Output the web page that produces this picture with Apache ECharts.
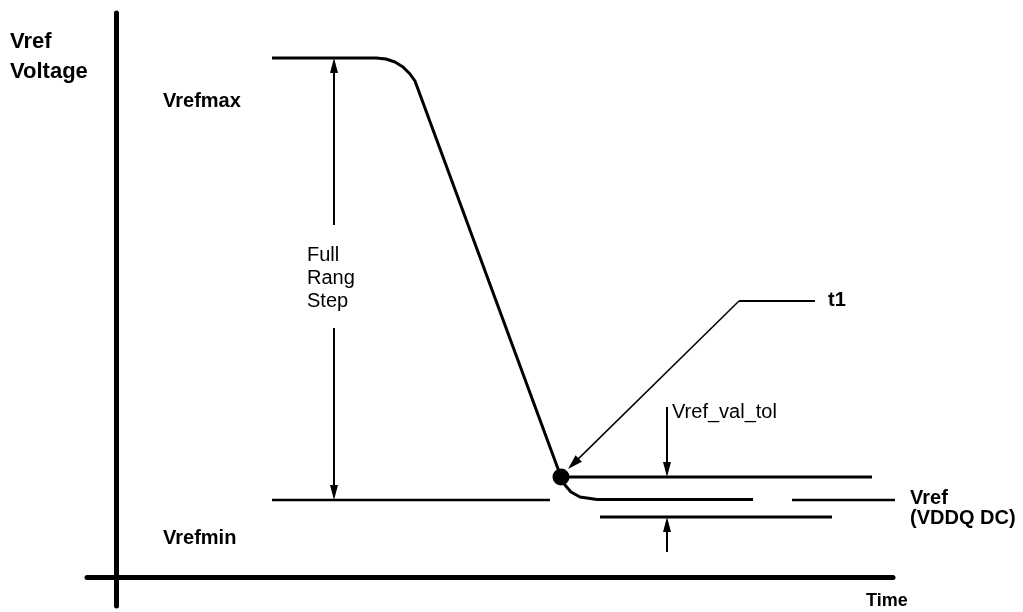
<!DOCTYPE html>
<html><head><meta charset="utf-8">
<script src="https://cdn.jsdelivr.net/npm/echarts@6/dist/echarts.min.js"></script>
<style>html,body{margin:0;padding:0;background:#fff}#chart{width:1023px;height:612px}</style>
</head><body><div id="chart"></div>
<script>
// Diagram data: x = time units, y = voltage units
const stepCurve = [[15.6,51.9],[26.0,51.9],[27.0,51.8],[27.9,51.5],[28.7,51.0],[29.4,50.3],[29.9,49.6],[44.5,10.0]];
const settleCurve = [[44.5,10.0],[44.9,9.2],[45.5,8.5],[46.4,8.0],[48.1,7.75],[63.7,7.75]];
const vrefminLine = [[15.6,7.7],[43.4,7.7]];
const vrefDcLine = [[67.6,7.7],[78.2,7.7]];
const tolUpperLine = [[44.5,10.0],[75.6,10.0]];
const tolLowerLine = [[48.4,6.0],[71.6,6.0]];
const t1Point = [[44.5,10.0]];
const t1Leader = [[62.3,27.6],[69.9,27.6]];
const dimensionArrows = [[21.8,35.2,21.8,51.9],[21.8,24.9,21.8,7.7],[55.1,17.0,55.1,10.0],[55.1,2.5,55.1,6.0]];
const t1Arrow = [[62.3,27.6,45.2,10.8]];
const boldLabels = ['Vrefmax','Vrefmin','t1','Vref\n(VDDQ DC)'];
const boldAnchors = [[4.7,47.6],[4.7,3.9],[71.2,27.7],[79.4,6.9]];
const plainLabels = ['Full\nRang\nStep','Vref_val_tol'];
const plainAnchors = [[19.1,29.9],[55.6,16.45]];
const yAxisTitle = 'Vref\nVoltage';
const xAxisTitle = 'Time';
const xRange = [-2.9, 77.7];
const yRange = [-2.9, 56.4];

const FONT = "'Liberation Sans', Arial, sans-serif";
const chart = echarts.init(document.getElementById('chart'));

function lineSeries(data, width) {
  return {type:'line', data, symbol:'none', clip:false, silent:true,
    lineStyle:{color:'#000', width: width || 3, join:'round', cap:'butt', opacity:1}};
}
function arrowSeries(data, width, headLen, headW) {
  return {
    type:'custom', coordinateSystem:'cartesian2d', clip:false, silent:true,
    encode:{x:[0,2], y:[1,3]}, data,
    renderItem(params, api) {
      const p1 = api.coord([api.value(0), api.value(1)]);
      const p2 = api.coord([api.value(2), api.value(3)]);
      const dx = p2[0]-p1[0], dy = p2[1]-p1[1];
      const len = Math.sqrt(dx*dx+dy*dy);
      const ux = dx/len, uy = dy/len;
      const bx = p2[0]-ux*headLen, by = p2[1]-uy*headLen;
      const nx = -uy*headW/2, ny = ux*headW/2;
      return {type:'group', children:[
        {type:'line', shape:{x1:p1[0], y1:p1[1], x2:bx+ux*2, y2:by+uy*2}, style:{stroke:'#000', lineWidth:width}},
        {type:'polygon', shape:{points:[[p2[0],p2[1]],[bx+nx,by+ny],[bx-nx,by-ny]]}, style:{fill:'#000'}}
      ]};
    }
  };
}
function labelSeries(texts, anchors, bold, lineHeight) {
  return {
    type:'scatter', symbolSize:0, clip:false, silent:true,
    itemStyle:{opacity:1, color:'#000'},
    data: texts.map((t,i)=>({value:anchors[i], name:t,
      label:{lineHeight: t.indexOf('Rang')>=0 ? 23 : (t.indexOf('VDDQ')>=0 ? 20 : lineHeight)}})),
    label:{show:true, formatter:p=>p.name, position:[0,0], align:'left', verticalAlign:'middle',
      color:'#000', opacity:1, fontFamily:FONT, fontSize:20, fontWeight: bold ? 'bold' : 'normal'}
  };
}

chart.setOption({
  animation:false,
  backgroundColor:'#fff',
  title:[
    {text:yAxisTitle, left:10, top:27, padding:0,
     textStyle:{fontFamily:FONT, fontSize:22, fontWeight:'bold', color:'#000', lineHeight:30}},
    {text:xAxisTitle, left:866, top:590, padding:0,
     textStyle:{fontFamily:FONT, fontSize:18, fontWeight:'bold', color:'#000', lineHeight:22}}
  ],
  grid:{left:87, right:130, top:13, bottom:6, containLabel:false},
  xAxis:{type:'value', min:xRange[0], max:xRange[1],
    axisLine:{show:true, onZero:true, lineStyle:{color:'#000', width:5}},
    axisTick:{show:false}, axisLabel:{show:false}, splitLine:{show:false}},
  yAxis:{type:'value', min:yRange[0], max:yRange[1],
    axisLine:{show:true, onZero:true, lineStyle:{color:'#000', width:5}},
    axisTick:{show:false}, axisLabel:{show:false}, splitLine:{show:false}},
  series:[
    lineSeries(stepCurve),
    lineSeries(settleCurve),
    lineSeries(vrefminLine, 2.5),
    lineSeries(vrefDcLine, 2.5),
    lineSeries(tolUpperLine),
    lineSeries(tolLowerLine),
    lineSeries(t1Leader, 2),
    {type:'scatter', data:t1Point, symbol:'circle', symbolSize:17, itemStyle:{color:'#000', opacity:1}, silent:true},
    arrowSeries(dimensionArrows, 2, 15, 8),
    arrowSeries(t1Arrow, 1.5, 15, 9),
    labelSeries(boldLabels, boldAnchors, true, 22),
    labelSeries(plainLabels, plainAnchors, false, 22)
  ]
});
</script></body></html>
